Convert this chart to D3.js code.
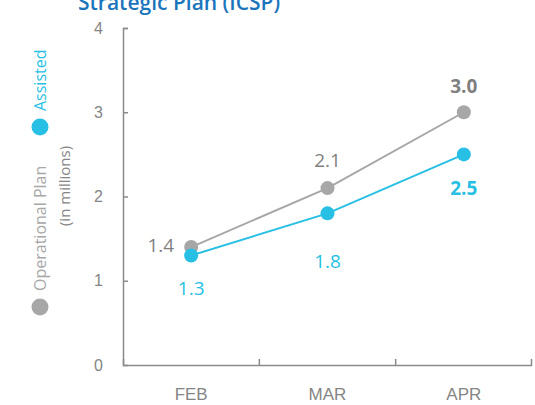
<!DOCTYPE html>
<html>
<head>
<meta charset="utf-8">
<script src="https://cdn.jsdelivr.net/npm/d3@7"></script>
<style>
  body { margin: 0; background: #fff; }
  svg { font-family: "Open Sans", sans-serif; }
</style>
</head>
<body>
<div id="chart-container"></div>
<script>
// Dữ liệu
const months = ["FEB", "MAR", "APR"];
const operationalPlan = [1.4, 2.1, 3.0];
const assisted = [1.3, 1.8, 2.5];
const yTicks = [0, 1, 2, 3, 4];

const width = 535;
const height = 405;
const margin = { top: 28, right: 3, bottom: 40, left: 123 };
const grey = "#a7a7a7";
const blue = "#27bfe3";
const axisGrey = "#8a8a8a";
const textGrey = "#858585";

const svg = d3.select("#chart-container")
    .append("svg")
    .attr("width", width)
    .attr("height", height);

const g = svg.append("g")
    .attr("transform", `translate(${margin.left}, ${margin.top})`);

const innerW = width - margin.left - margin.right;
const innerH = height - margin.top - margin.bottom;

// Thang đo
const xScale = d3.scaleBand().domain(months).range([0, innerW]);
const yScale = d3.scaleLinear().domain([0, 4]).range([innerH, 0]);
const cx = (d) => xScale(d) + xScale.bandwidth() / 2;

// Trục x
const xAxis = g.append("g")
    .attr("transform", `translate(0, ${innerH})`)
    .call(d3.axisBottom(xScale).tickSize(0).tickPadding(23));
xAxis.select(".domain").remove();
xAxis.append("path")
    .attr("d", `M0.5,-6V0.5H${innerW - 0.5}V-6`)
    .attr("fill", "none")
    .attr("stroke", axisGrey)
    .attr("stroke-width", 1.5);
xAxis.selectAll(".bdr")
    .data(months.slice(1))
    .enter()
    .append("line")
    .attr("x1", (d) => xScale(d))
    .attr("x2", (d) => xScale(d))
    .attr("y1", 0)
    .attr("y2", -6)
    .attr("stroke", axisGrey)
    .attr("stroke-width", 1.5);
xAxis.selectAll(".tick text")
    .style("font-size", "17px")
    .style("fill", textGrey);

// Trục y
const yAxis = g.append("g")
    .call(d3.axisLeft(yScale).tickValues(yTicks).tickFormat(d3.format("d"))
        .tickSize(-5).tickPadding(20).tickSizeOuter(0));
yAxis.select(".domain").attr("stroke", axisGrey).attr("stroke-width", 1.5)
    .attr("d", `M5,0.5H0.5V${innerH}`);
yAxis.selectAll(".tick line").attr("stroke", axisGrey).attr("stroke-width", 1.5);
yAxis.selectAll(".tick text")
    .style("font-size", "16px")
    .style("fill", textGrey);

// Đường
const line = d3.line()
    .x((d, i) => cx(months[i]))
    .y((d) => yScale(d));

const series = [
    { values: operationalPlan, color: grey, labelColor: "#7f7f7f", dy: [5, -21, -19], dx: [-17, 0, 0] },
    { values: assisted, color: blue, labelColor: blue, dy: [40, 55, 41], dx: [0, 0, 0] }
];

series.forEach((s) => {
    g.append("path")
        .datum(s.values)
        .attr("fill", "none")
        .attr("stroke", s.color)
        .attr("stroke-width", 2)
        .attr("d", line);

    g.selectAll(null)
        .data(s.values)
        .enter()
        .append("circle")
        .attr("cx", (d, i) => cx(months[i]))
        .attr("cy", (d) => yScale(d))
        .attr("r", 7)
        .attr("fill", s.color);

    g.selectAll(null)
        .data(s.values)
        .enter()
        .append("text")
        .attr("x", (d, i) => cx(months[i]) + s.dx[i])
        .attr("y", (d, i) => yScale(d) + s.dy[i])
        .attr("text-anchor", (d, i) => s.dx[i] < 0 ? "end" : "middle")
        .style("font-size", "19px")
        .style("font-weight", (d, i) => i === 2 ? "bold" : "normal")
        .style("fill", s.labelColor)
        .text((d) => d.toFixed(1));
});

// Tiêu đề trục y
svg.append("text")
    .attr("transform", "translate(70, 186) rotate(-90)")
    .attr("text-anchor", "middle")
    .style("font-size", "15px")
    .style("fill", textGrey)
    .text("(in millions)");

// Chú giải
const legend = [
    { name: "Operational Plan", color: grey, y: 307 },
    { name: "Assisted", color: blue, y: 127 }
];
legend.forEach((l) => {
    svg.append("circle")
        .attr("cx", 40)
        .attr("cy", l.y)
        .attr("r", 8.5)
        .attr("fill", l.color);
    svg.append("text")
        .attr("transform", `translate(46, ${l.y - 16}) rotate(-90)`)
        .style("font-size", "16px")
        .style("fill", l.color)
        .text(l.name);
});

// Tiêu đề
svg.append("text")
    .attr("x", 78)
    .attr("y", 10)
    .style("font-size", "21px")
    .style("font-weight", "600")
    .style("fill", "#1b75bc")
    .text("Strategic Plan (ICSP)");
</script>
</body>
</html>
